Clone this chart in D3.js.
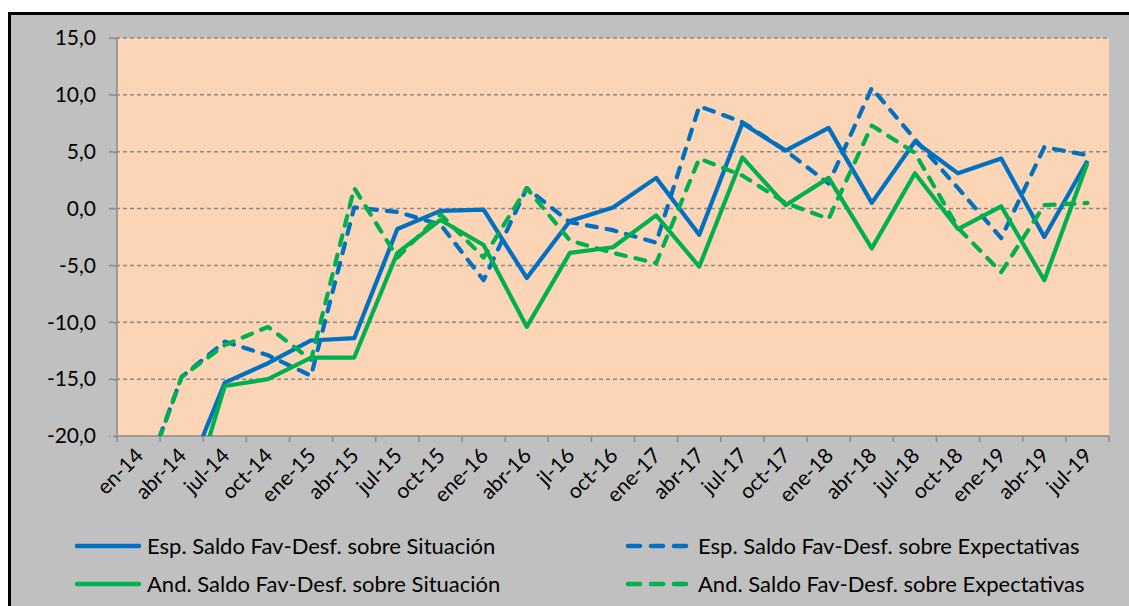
<!DOCTYPE html>
<html><head><meta charset="utf-8">
<script src="https://cdn.jsdelivr.net/npm/d3@7"></script>
<style>
html,body{margin:0;padding:0;background:#fff;}
svg{display:block;font-family:Lato,"Noto Sans",sans-serif;}
</style></head>
<body>
<svg id="c" width="1129" height="606"></svg>
<script>
const categories = ["en-14","abr-14","jul-14","oct-14","ene-15","abr-15","jul-15","oct-15","ene-16","abr-16","jl-16","oct-16","ene-17","abr-17","jul-17","oct-17","ene-18","abr-18","jul-18","oct-18","ene-19","abr-19","jul-19"];
const espSituacion   = [null,-24.6,-15.3,-13.6,-11.6,-11.4,-1.8,-0.2,-0.1,-6.1,-1.1,0.1,2.7,-2.3,7.5,5.1,7.1,0.5,5.9,3.1,4.4,-2.5,4.2];
const espExpectativas= [-25.1,-14.8,-11.7,-12.9,-14.7,0.1,-0.3,-1.4,-6.3,1.8,-1.2,-1.9,-3.0,9.0,7.6,5.1,2.2,10.6,6.1,1.8,-2.6,5.4,4.7];
const andSituacion   = [null,-28.1,-15.6,-15.0,-13.1,-13.1,-3.9,-1.0,-3.2,-10.4,-3.9,-3.4,-0.6,-5.1,4.5,0.3,2.7,-3.5,3.1,-1.8,0.2,-6.3,4.0];
const andExpectativas= [-25.3,-14.8,-12.0,-10.4,-13.3,1.8,-4.3,-0.5,-4.3,1.8,-2.8,-3.9,-4.8,4.4,2.9,0.5,-0.9,7.3,4.9,-1.7,-5.6,0.3,0.5];
const yTicks = [-20,-15,-10,-5,0,5,10,15];
const seriesNames = ["Esp. Saldo Fav-Desf. sobre Situación","Esp. Saldo Fav-Desf. sobre Expectativas","And. Saldo Fav-Desf. sobre Situación","And. Saldo Fav-Desf. sobre Expectativas"];

const series = [
  {name:seriesNames[0], values:espSituacion,    color:"#0070C0", dashed:false},
  {name:seriesNames[1], values:espExpectativas, color:"#0070C0", dashed:true},
  {name:seriesNames[2], values:andSituacion,    color:"#00B050", dashed:false},
  {name:seriesNames[3], values:andExpectativas, color:"#00B050", dashed:true}
];

const svg = d3.select("#c");
const L=117, R=1109, T=38, B=436;
const locale = d3.formatLocale({decimal:",", thousands:".", grouping:[3], currency:["","€"], minus:"-"});
const fmt = locale.format(".1f");

// outer frame
svg.append("rect").attr("x",9.5).attr("y",13.5).attr("width",1300).attr("height",800)
  .attr("fill","#C0C0C0").attr("stroke","#000").attr("stroke-width",3);
// plot area
svg.append("rect").attr("x",L).attr("y",T).attr("width",R-L).attr("height",B-T).attr("fill","#FBD5B5");

const x = d3.scaleBand().domain(categories).range([L,R]).padding(0);
const y = d3.scaleLinear().domain([-20,15]).range([B,T]);
const cx = c => x(c) + x.bandwidth()/2;

// gridlines
svg.append("g").selectAll("line").data(yTicks.filter(d=>d>-20)).join("line")
  .attr("x1",L-8).attr("x2",R).attr("y1",d=>y(d)).attr("y2",d=>y(d))
  .attr("stroke","#8A8A8A").attr("stroke-width",1.5).attr("stroke-dasharray","4,3");

// y axis
const ya = svg.append("g").attr("transform",`translate(${L},0)`)
  .call(d3.axisLeft(y).tickValues(yTicks).tickFormat(fmt).tickSize(8).tickPadding(13));
ya.select(".domain").attr("stroke","#8A8A8A").attr("stroke-width",1.5).attr("d",`M0,${T}V${B}`);
ya.selectAll(".tick line").attr("stroke","#8A8A8A").attr("stroke-width",1.5).attr("stroke-dasharray","4,3");
ya.selectAll(".tick text").attr("font-size",21).attr("fill","#000").attr("font-family","Lato");

// x axis
const xa = svg.append("g").attr("transform",`translate(0,${B})`);
xa.append("line").attr("x1",L).attr("x2",R).attr("y1",0).attr("y2",0).attr("stroke","#8A8A8A").attr("stroke-width",1.5);
const bounds = categories.map(c=>x(c)).concat([R]);
xa.selectAll("line.tk").data(bounds).join("line").attr("class","tk")
  .attr("x1",d=>d).attr("x2",d=>d).attr("y1",0).attr("y2",6).attr("stroke","#8A8A8A").attr("stroke-width",1.5);
xa.selectAll("text").data(categories).join("text")
  .attr("transform",d=>`translate(${cx(d)+6},${21}) rotate(-45)`)
  .attr("text-anchor","end").attr("font-size",21).attr("fill","#000").text(d=>d);

// clip
svg.append("clipPath").attr("id","clip").append("rect").attr("x",L).attr("y",T).attr("width",R-L).attr("height",B-T);

const line = d3.line().defined(d=>d.v!==null).x(d=>cx(d.c)).y(d=>y(d.v));
const lg = svg.append("g").attr("clip-path","url(#clip)");
series.forEach(s=>{
  lg.append("path").datum(categories.map((c,i)=>({c, v:s.values[i]})))
    .attr("d",line).attr("fill","none").attr("stroke",s.color).attr("stroke-width",4.2)
    .attr("stroke-linejoin","round").attr("stroke-linecap",s.dashed?"round":"butt")
    .attr("stroke-dasharray",s.dashed?"10,10":null);
});

// legend
const legPos = [[77,546],[628,546],[77,584],[628,584]];
series.forEach((s,i)=>{
  const [lx,ly]=legPos[i];
  svg.append("line").attr("x1",lx).attr("x2",lx+62).attr("y1",ly).attr("y2",ly)
    .attr("stroke",s.color).attr("stroke-width",4.5)
    .attr("stroke-linecap","round")
    .attr("stroke-dasharray",s.dashed?"12,11":null);
  svg.append("text").attr("x",lx+70).attr("y",ly+8).attr("font-size",22).attr("fill","#000").text(s.name);
});
</script>
</body></html>
